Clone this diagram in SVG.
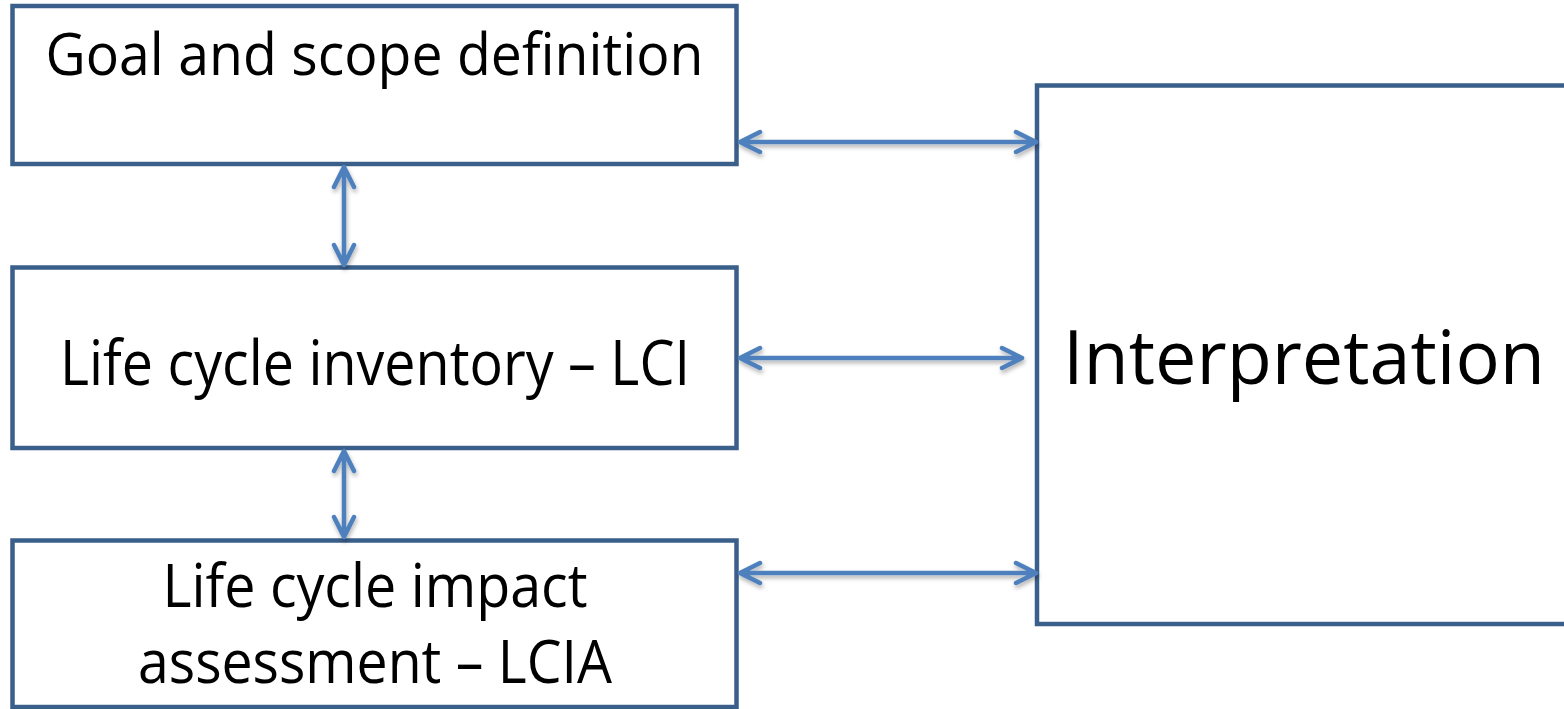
<svg xmlns="http://www.w3.org/2000/svg" width="1564" height="709" viewBox="0 0 1564 709">
<style>
.box{fill:#fff;stroke:#3a5f8b;stroke-width:4.5}
.lbl{font-family:"Open Sans","Noto Sans","Liberation Sans",sans-serif;fill:#000;text-anchor:middle}
.arr{fill:none;stroke:#4e80bd;stroke-width:4.5;stroke-linecap:round;stroke-linejoin:round}
</style>
<defs>
<filter id="sh" x="-10%" y="-50%" width="120%" height="200%">
<feDropShadow dx="1" dy="3" stdDeviation="2" flood-color="#000" flood-opacity="0.3"/>
</filter>
</defs>
<g id="goal">
<rect class="box" x="12.5" y="6" width="724" height="158"/>
<text class="lbl" x="374.5" y="75" font-size="59" textLength="658" lengthAdjust="spacingAndGlyphs">Goal and scope definition</text>
</g>
<g id="lci">
<rect class="box" x="12.5" y="267.5" width="724" height="180.5"/>
<text class="lbl" x="375" y="385" font-size="63" textLength="630" lengthAdjust="spacingAndGlyphs">Life cycle inventory – LCI</text>
</g>
<g id="lcia">
<rect class="box" x="12.5" y="540.5" width="724" height="166.5"/>
<text class="lbl" x="375" y="607" font-size="60" textLength="425" lengthAdjust="spacingAndGlyphs">Life cycle impact</text>
<text class="lbl" x="375" y="683" font-size="60" textLength="474" lengthAdjust="spacingAndGlyphs">assessment – LCIA</text>
</g>
<g id="interpretation">
<rect class="box" x="1037" y="85.5" width="540" height="538.5"/>
<text class="lbl" x="1304" y="384" font-size="75" textLength="482" lengthAdjust="spacingAndGlyphs">Interpretation</text>
</g>
<g id="connectors" filter="url(#sh)">
<path class="arr" d="M740 142H1036M760 132L740 142L760 152M1016 132L1036 142L1016 152"/>
<path class="arr" d="M740 358H1022M760 348L740 358L760 368M1002 348L1022 358L1002 368"/>
<path class="arr" d="M740 573H1036M760 563L740 573L760 583M1016 563L1036 573L1016 583"/>
<path class="arr" d="M344 167V265M334 187L344 167L354 187M334 245L344 265L354 245"/>
<path class="arr" d="M344 451V537M334 471L344 451L354 471M334 517L344 537L354 517"/>
</g>
</svg>
